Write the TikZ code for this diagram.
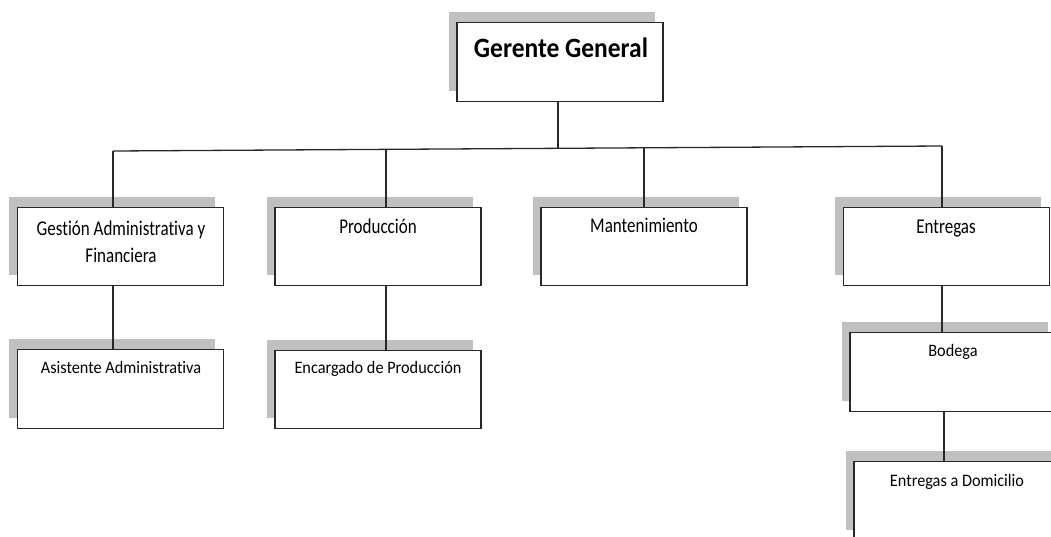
\documentclass[tikz,border=0pt]{standalone}
\usepackage{fontspec}
\usetikzlibrary{shadows,calc}
\newfontfamily\headfont[FakeStretch=0.91,Ligatures=NoCommon]{Carlito}
\newfontfamily\unitfont[FakeStretch=0.81,Ligatures=NoCommon]{Carlito}
\newfontfamily\subfont[FakeStretch=0.93,Ligatures=NoCommon]{Carlito}
\definecolor{shadowgray}{RGB}{192,192,192}
\definecolor{boxline}{RGB}{40,40,40}
\begin{document}
\begin{tikzpicture}[x=1pt,y=-1pt,
  orgbox/.style={draw=boxline,line width=1.4pt,fill=white,inner sep=0pt,
    minimum width=206pt,minimum height=78.5pt,
    general shadow={shadow xshift=-8.5pt,shadow yshift=10.5pt,fill=shadowgray,draw=none}},
  headtext/.style={anchor=base,inner sep=0pt,font=\headfont\bfseries\fontsize{28}{34}\selectfont},
  unittext/.style={anchor=base,inner sep=0pt,align=center,font=\unitfont\fontsize{21}{27}\selectfont},
  subtext/.style={anchor=base,inner sep=0pt,font=\subfont\fontsize{17.5}{21}\selectfont},
  link/.style={draw=boxline,line width=1.3pt}]
\useasboundingbox (0,0) rectangle (1051,536);
\clip (0,0) rectangle (1051,536);

% boxes
\node[orgbox] (gg) at (560,62) {};
\node[orgbox] (ga) at (120.5,246.5) {};
\node[orgbox] (pr) at (378,246.5) {};
\node[orgbox] (ma) at (644,246.5) {};
\node[orgbox] (en) at (946.5,246.5) {};
\node[orgbox] (as) at (120.5,389) {};
\node[orgbox] (ec) at (378,389.5) {};
\node[orgbox] (bo) at (953,372) {};
\node[orgbox] (ed) at (957,501) {};

% labels (a two-line label is placed by the baseline of its last line)
\node[headtext] (gg-t) at (561,57) {Gerente General};
\node[unittext] (ga-t) at (121,262) {Gestión Administrativa y\\Financiera};
\node[unittext] (pr-t) at (378,233) {Producción};
\node[unittext] (ma-t) at (644,232) {Mantenimiento};
\node[unittext] (en-t) at (946,233) {Entregas};
\node[subtext] (as-t) at (121,373) {Asistente Administrativa};
\node[subtext] (ec-t) at (378,373) {Encargado de Producción};
\node[subtext] (bo-t) at (953,356) {Bodega};
\node[subtext] (ed-t) at (957,486) {Entregas a Domicilio};

% junction points on the distribution bar
\coordinate (t1) at (113,151);
\coordinate (t2) at (386,149.4);
\coordinate (tg) at (558,148.3);
\coordinate (t3) at (644,147.8);
\coordinate (t4) at (942,146);

% connectors
\draw[link] (tg |- gg.south) -- (tg);
\draw[link] (t1) -- (t4);
\draw[link] (t1) -- (t1 |- ga.north);
\draw[link] (t2) -- (t2 |- pr.north);
\draw[link] (t3) -- (t3 |- ma.north);
\draw[link] (t4) -- (t4 |- en.north);
\draw[link] (t1 |- ga.south) -- (t1 |- as.north);
\draw[link] (t2 |- pr.south) -- (t2 |- ec.north);
\draw[link] (t4 |- en.south) -- (t4 |- bo.north);
\draw[link] ([xshift=-9pt]bo.south) -- ([xshift=-9pt]bo.south |- ed.north);
\end{tikzpicture}
\end{document}
